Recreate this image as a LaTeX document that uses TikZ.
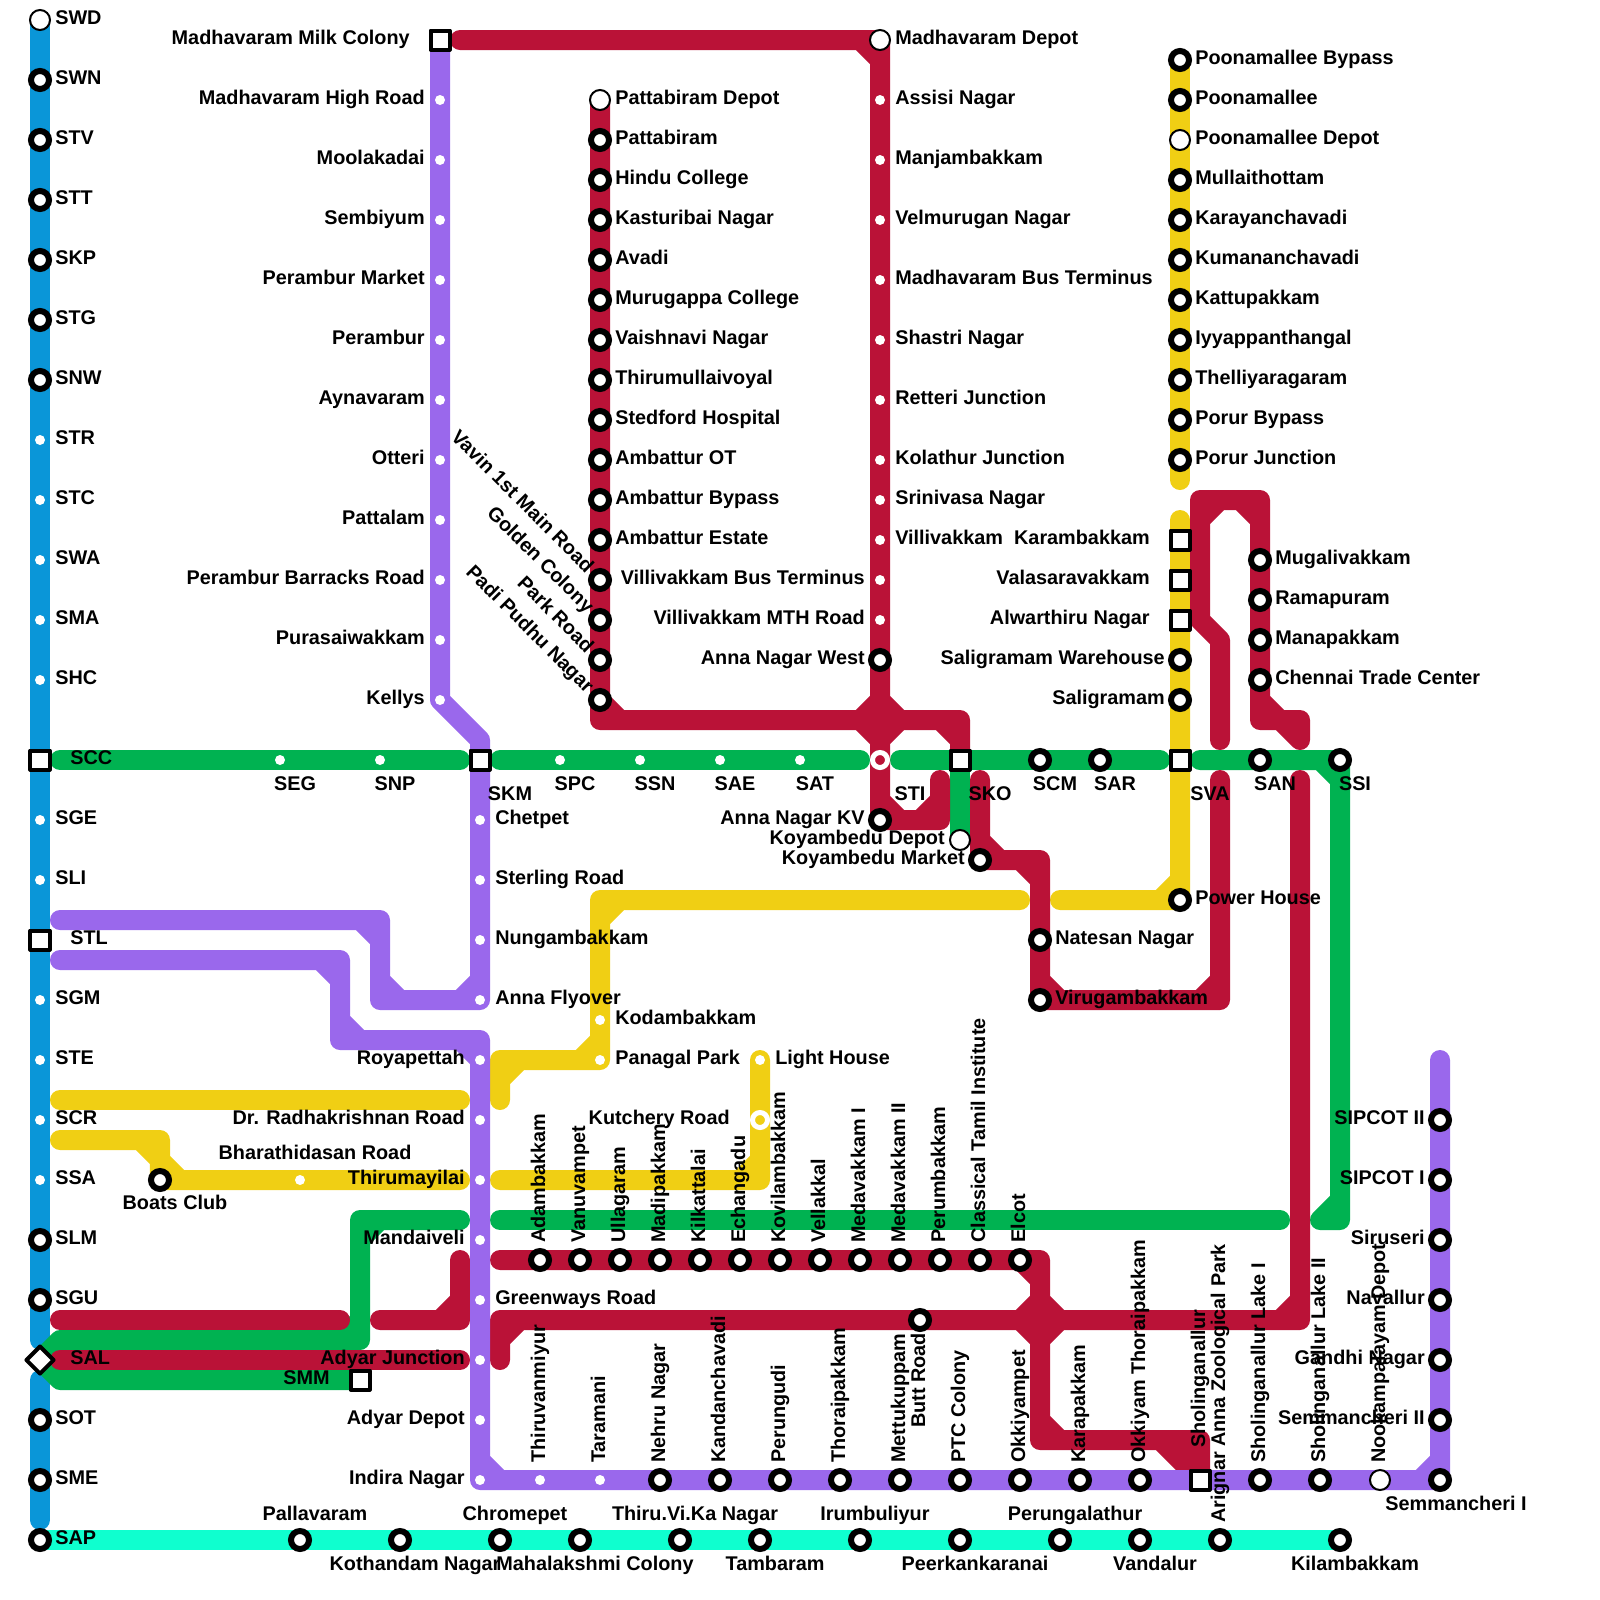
\documentclass[tikz,border=0pt]{standalone}
\usepackage{fontspec}
\setmainfont{Liberation Sans}
\usetikzlibrary{shapes.geometric, backgrounds}
\definecolor{metroblue}{HTML}{0A96D8}
\definecolor{metropurple}{HTML}{9A68EC}
\definecolor{metrored}{HTML}{BA1237}
\definecolor{metrogreen}{HTML}{00B251}
\definecolor{metroyellow}{HTML}{F0CF14}
\definecolor{metroteal}{HTML}{0FFFCF}

\begin{document}
\begin{tikzpicture}[
    x=0.025cm, y=-0.025cm,
    mline/.style = {line width=0.5cm, line cap=round, line join=round},
    blueline/.style = {mline, draw=metroblue},
    purline/.style = {mline, draw=metropurple},
    redline/.style = {mline, draw=metrored},
    grnline/.style = {mline, draw=metrogreen},
    yelline/.style = {mline, draw=metroyellow},
    tealline/.style = {mline, line cap=butt, draw=metroteal},
    ring/.style = {circle, draw=black, fill=white, line width=0.15cm, minimum size=0.45cm, inner sep=0pt},
    dotstn/.style = {circle, fill=white, minimum size=0.25cm, inner sep=0pt},
    openstn/.style = {circle, draw=black, fill=white, line width=0.05cm, minimum size=0.5cm, inner sep=0pt},
    sqstn/.style = {rectangle, draw=black, fill=white, line width=0.1cm, line join=round, minimum size=0.475cm, inner sep=0pt},
    diamstn/.style = {diamond, draw=black, fill=white, line width=0.1cm, line join=round, minimum size=0.72cm, inner sep=0pt},
    xredstn/.style = {circle, draw=white, fill=metrored, line width=0.125cm, minimum size=0.375cm, inner sep=0pt},
    xyelstn/.style = {circle, draw=white, fill=metroyellow, line width=0.125cm, minimum size=0.375cm, inner sep=0pt},
    lbl/.style = {font=\fontsize{14.1pt}{15pt}\bfseries, inner sep=0pt},
    lblr/.style = {lbl, anchor=base west},
    lbll/.style = {lbl, anchor=base east},
    lblc/.style = {lbl, anchor=base},
    lblup/.style = {lbl, anchor=base west, rotate=90},
    lbldg/.style = {lbl, anchor=base east, rotate=-45}
]
\useasboundingbox (0,0) rectangle (1600,1600);

% blue line
\foreach \st/\y/\txt in {openstn/20/SWD, ring/80/SWN, ring/140/STV, ring/200/STT, ring/260/SKP, ring/320/STG, ring/380/SNW,
    dotstn/440/STR, dotstn/500/STC, dotstn/560/SWA, dotstn/620/SMA, dotstn/680/SHC, dotstn/820/SGE, dotstn/880/SLI,
    dotstn/1000/SGM, dotstn/1060/STE, dotstn/1120/SCR, dotstn/1180/SSA, ring/1240/SLM, ring/1300/SGU,
    ring/1420/SOT, ring/1480/SME, ring/1540/SAP}
    {\node[\st] (blu-\y) at (40,\y) {};
     \node[lblr] (blu-\y-t) at (55,\y+4) {\txt};}
\foreach \st/\y/\txt in {sqstn/760/SCC, sqstn/940/STL, diamstn/1360/SAL}
    {\node[\st] (blu-\y) at (40,\y) {};
     \node[lblr] (blu-\y-t) at (70,\y+4) {\txt};}

% purple line, north part
\node[sqstn] (pnw-40) at (440,40) {};
\node[lbll] (pnw-40-t) at (410,44) {Madhavaram Milk Colony};
\foreach \y/\txt in {100/Madhavaram High Road, 160/Moolakadai, 220/Sembiyum, 280/Perambur Market, 340/Perambur,
    400/Aynavaram, 460/Otteri, 520/Pattalam, 580/Perambur Barracks Road, 640/Purasaiwakkam, 700/Kellys}
    {\node[dotstn] (pnw-\y) at (440,\y) {};
     \node[lbll] (pnw-\y-t) at (425,\y+4) {\txt};}

% purple line, middle part
\foreach \y/\txt in {820/Chetpet, 880/Sterling Road, 940/Nungambakkam, 1000/Anna Flyover, 1300/Greenways Road}
    {\node[dotstn] (pmd-\y) at (480,\y) {};
     \node[lblr] (pmd-\y-t) at (495,\y+4) {\txt};}
\foreach \y/\txt in {1060/Royapettah, 1120/Dr. Radhakrishnan Road, 1180/Thirumayilai, 1240/Mandaiveli,
    1360/Adyar Junction, 1420/Adyar Depot}
    {\node[dotstn] (pmd-\y) at (480,\y) {};
     \node[lbll] (pmd-\y-t) at (465,\y+4) {\txt};}
\node[dotstn] (pbt-480) at (480,1480) {};
\node[lbll] (pbt-480-t) at (465,1484) {Indira Nagar};

% purple line, south part
\foreach \st/\x/\txt in {dotstn/540/Thiruvanmiyur, dotstn/600/Taramani, ring/660/Nehru Nagar, ring/720/Kandanchavadi,
    ring/780/Perungudi, ring/840/Thoraipakkam, ring/900/Mettukuppam, ring/960/PTC Colony, ring/1020/Okkiyampet,
    ring/1080/Karapakkam, ring/1140/Okkiyam Thoraipakkam, ring/1260/Sholinganallur Lake I,
    ring/1320/Sholinganallur Lake II, openstn/1380/Nookampalayam Depot}
    {\node[\st] (pbt-\x) at (\x,1480) {};
     \node[lblup] (pbt-\x-t) at (\x+5,1463) {\txt};}
\node[sqstn] (pbt-1200) at (1200,1480) {};
\node[lblup] (pbt-1200-t) at (1205,1448) {Sholinganallur};
\node[ring] (pbt-1440) at (1440,1480) {};
\node[lblc] (pbt-1440-t) at (1456,1510) {Semmancheri I};
\foreach \y/\txt in {1120/SIPCOT II, 1180/SIPCOT I, 1240/Siruseri, 1300/Navallur, 1360/Gandhi Nagar, 1420/Semmancheri II}
    {\node[ring] (pso-\y) at (1440,\y) {};
     \node[lbll] (pso-\y-t) at (1425,\y+4) {\txt};}

% red line, Pattabiram side
\node[openstn] (rpt-100) at (600,100) {};
\node[lblr] (rpt-100-t) at (615,104) {Pattabiram Depot};
\foreach \y/\txt in {140/Pattabiram, 180/Hindu College, 220/Kasturibai Nagar, 260/Avadi, 300/Murugappa College,
    340/Vaishnavi Nagar, 380/Thirumullaivoyal, 420/Stedford Hospital, 460/Ambattur OT, 500/Ambattur Bypass, 540/Ambattur Estate}
    {\node[ring] (rpt-\y) at (600,\y) {};
     \node[lblr] (rpt-\y-t) at (615,\y+4) {\txt};}
\foreach \y/\txt in {580/Vavin 1st Main Road, 620/Golden Colony, 660/Park Road, 700/Padi Pudhu Nagar}
    {\node[ring] (rpt-\y) at (600,\y) {};
     \node[lbldg] (rpt-\y-t) at (586,\y-6) {\txt};}

% red line, Madhavaram side
\node[openstn] (rnm-40) at (880,40) {};
\node[lblr] (rnm-40-t) at (895,44) {Madhavaram Depot};
\foreach \y/\txt in {100/Assisi Nagar, 160/Manjambakkam, 220/Velmurugan Nagar, 280/Madhavaram Bus Terminus, 340/Shastri Nagar,
    400/Retteri Junction, 460/Kolathur Junction, 500/Srinivasa Nagar, 540/Villivakkam}
    {\node[dotstn] (rnm-\y) at (880,\y) {};
     \node[lblr] (rnm-\y-t) at (895,\y+4) {\txt};}
\foreach \st/\y/\txt in {dotstn/580/Villivakkam Bus Terminus, dotstn/620/Villivakkam MTH Road, ring/660/Anna Nagar West, ring/820/Anna Nagar KV}
    {\node[\st] (rnm-\y) at (880,\y) {};
     \node[lbll] (rnm-\y-t) at (865,\y+4) {\txt};}

% yellow line, Poonamallee side
\foreach \st/\y/\txt in {ring/60/Poonamallee Bypass, ring/100/Poonamallee, openstn/140/Poonamallee Depot, ring/180/Mullaithottam,
    ring/220/Karayanchavadi, ring/260/Kumananchavadi, ring/300/Kattupakkam, ring/340/Iyyappanthangal,
    ring/380/Thelliyaragaram, ring/420/Porur Bypass, ring/460/Porur Junction, ring/900/Power House}
    {\node[\st] (yax-\y) at (1180,\y) {};
     \node[lblr] (yax-\y-t) at (1195,\y+4) {\txt};}
\foreach \y/\txt in {540/Karambakkam, 580/Valasaravakkam, 620/Alwarthiru Nagar}
    {\node[sqstn] (yax-\y) at (1180,\y) {};
     \node[lbll] (yax-\y-t) at (1150,\y+4) {\txt};}
\foreach \y/\txt in {660/Saligramam Warehouse, 700/Saligramam}
    {\node[ring] (yax-\y) at (1180,\y) {};
     \node[lbll] (yax-\y-t) at (1165,\y+4) {\txt};}

% yellow line, other stations
\foreach \st/\n/\x/\y/\txt in {dotstn/kodam/600/1020/Kodambakkam, dotstn/panag/600/1060/Panagal Park, dotstn/light/760/1060/Light House}
    {\node[\st] (\n) at (\x,\y) {};
     \node[lblr] (\n-t) at (\x+15,\y+4) {\txt};}
\node[xyelstn] (kutch) at (760,1120) {};
\node[lbll] (kutch-t) at (730,1124) {Kutchery Road};
\node[ring] (boats) at (160,1180) {};
\node[lblc] (boats-t) at (175,1209) {Boats Club};
\node[dotstn] (bhara) at (300,1180) {};
\node[lblc] (bhara-t) at (315,1159) {Bharathidasan Road};

% red line, Mugalivakkam and Virugambakkam side
\foreach \y/\txt in {560/Mugalivakkam, 600/Ramapuram, 640/Manapakkam, 680/Chennai Trade Center}
    {\node[ring] (rte-\y) at (1260,\y) {};
     \node[lblr] (rte-\y-t) at (1275,\y+4) {\txt};}
\foreach \n/\y/\txt in {natesan/940/Natesan Nagar, viru/1000/Virugambakkam}
    {\node[ring] (\n) at (1040,\y) {};
     \node[lblr] (\n-t) at (1055,\y+4) {\txt};}
\node[openstn] (kdepot) at (960,840) {};
\node[lbll] (kdepot-t) at (945,844) {Koyambedu Depot};
\node[ring] (kmarket) at (980,860) {};
\node[lbll] (kmarket-t) at (965,864) {Koyambedu Market};

% red line, Adambakkam row
\foreach \x/\txt in {540/Adambakkam, 580/Vanuvampet, 620/Ullagaram, 660/Madipakkam, 700/Kilkattalai, 740/Echangadu,
    780/Kovilambakkam, 820/Vellakkal, 860/Medavakkam I, 900/Medavakkam II, 940/Perumbakkam,
    980/Classical Tamil Institute, 1020/Elcot}
    {\node[ring] (rcr-\x) at (\x,1260) {};
     \node[lblup] (rcr-\x-t) at (\x+5,1243) {\txt};}
\node[ring] (butt) at (920,1320) {};
\node[lblup] (butt-t) at (925,1428) {Butt Road};

% green line stations
\foreach \st/\x/\txt in {dotstn/280/SEG, dotstn/380/SNP, dotstn/560/SPC, dotstn/640/SSN,
    dotstn/720/SAE, dotstn/800/SAT, ring/1040/SCM, ring/1100/SAR, ring/1260/SAN, ring/1340/SSI}
    {\node[\st] (grn-\x) at (\x,760) {};
     \node[lblc] (grn-\x-t) at (\x+15,790) {\txt};}
\node[sqstn] (grn-480) at (480,760) {};
\node[lblc] (grn-480-t) at (510,800) {SKM};
\node[xredstn] (grn-880) at (880,760) {};
\node[lblc] (grn-880-t) at (910,800) {STI};
\node[sqstn] (grn-960) at (960,760) {};
\node[lblc] (grn-960-t) at (990,800) {SKO};
\node[sqstn] (grn-1180) at (1180,760) {};
\node[lblc] (grn-1180-t) at (1210,800) {SVA};
\node[sqstn] (smm) at (360,1380) {};
\node[lbll] (smm-t) at (330,1384) {SMM};

% teal line stations
\foreach \x/\bs/\txt in {300/1520/Pallavaram, 400/1570/Kothandam Nagar, 500/1520/Chromepet, 580/1570/Mahalakshmi Colony,
    680/1520/Thiru.Vi.Ka Nagar, 760/1570/Tambaram, 860/1520/Irumbuliyur, 960/1570/Peerkankaranai,
    1060/1520/Perungalathur, 1140/1570/Vandalur, 1340/1570/Kilambakkam}
    {\node[ring] (tea-\x) at (\x,1540) {};
     \node[lblc] (tea-\x-t) at (\x+15,\bs) {\txt};}
\node[ring] (tea-1220) at (1220,1540) {};
\node[lblup] (tea-1220-t) at (1225,1523) {Arignar Anna Zoological Park};

% free ends and bends
\foreach \n/\x/\y in {bla/40/1340, blb/40/1380, blc/40/1520,
    pa/480/740, pb/380/1000, pc/380/920, pd/60/920, pe/60/960, pf/340/960, pg/340/1040, ph/480/1040, pi/1440/1060, pj/1440/1480,
    ra/460/40, rb/880/720, rc/940/820, rd/940/780, re/600/720, rf/960/720, rg/980/780, rh/1040/860, ri/1040/1000, rj/1220/1000, rk/1220/780,
    rl/1220/740, rm/1220/640, rn/1200/620, ro/1200/500, rp/1260/500, rq/1260/720, rr/1300/720, rs/1300/740,
    rt/60/1320, ru/340/1320, rv/380/1320, rw/460/1320, rx/460/1260, ry/60/1360, rz/460/1360,
    sa/500/1360, sb/500/1320, sc/1300/1320, sd/1300/780, se/500/1260, sf/1040/1260, sg/1040/1440, sh/1200/1440, si/1040/1320,
    ga/60/760, gb/460/760, gc/500/760, gd/860/760, ge/900/760, gf/1160/760, gg/1200/760, gh/1340/1220, gi/1320/1220,
    gj/500/1220, gk/1280/1220, gl/460/1220, gm/360/1220, gn/360/1340, go/60/1340, gp/60/1380,
    ya/1180/480, yb/1180/520, yc/1060/900, yd/1020/900, ye/600/900, yf/500/1060, yg/500/1100,
    yh/60/1100, yi/460/1100, yj/60/1140, yk/160/1140, yl/460/1180, ym/500/1180, yn/760/1180}
    {\coordinate (\n) at (\x,\y);}

\begin{scope}[on background layer]
% blue and teal
\draw[blueline] (blu-20.center) -- (bla);
\draw[blueline] (blb) -- (blc);
\draw[tealline] (blu-1540.center) -- (tea-1340.center);

% green
\draw[grnline] (ga) -- (gb);
\draw[grnline] (gc) -- (gd);
\draw[grnline] (ge) -- (gf);
\draw[grnline] (gg) -- (grn-1340.center) -- (gh) -- (gi)
    (grn-1340.center) ++(-20,0) -- ++(20,20)
    (gi) -- ++(20,-20);
\draw[grnline] (grn-960.center) -- (kdepot.center);
\draw[grnline] (gj) -- (gk);
\draw[grnline] (gl) -- (gm) -- (gn) -- (go) -- (blu-1360.center) -- (gp) -- (smm.center)
    (gm) ++(0,20) -- ++(20,-20)
    (gn) ++(0,-20) -- ++(-20,20);

% yellow
\draw[yelline] (yax-60.center) -- (ya);
\draw[yelline] (yb) -- (yax-900.center) -- (yc)
    (yax-900.center) ++(-20,0) -- ++(20,-20);
\draw[yelline] (yd) -- (ye) -- (panag.center) -- (yf) -- (yg)
    (ye) ++(0,20) -- ++(20,-20)
    (panag.center) ++(-20,0) -- ++(20,-20)
    (yf) ++(0,20) -- ++(20,-20);
\draw[yelline] (yh) -- (yi);
\draw[yelline] (yj) -- (yk) -- (boats.center) -- (yl)
    (yk) ++(-20,0) -- ++(20,20) -- ++(20,20);
\draw[yelline] (ym) -- (yn) -- (light.center)
    (yn) ++(-20,0) -- ++(20,-20);

% red
\draw[redline] (ra) -- (rnm-40.center) -- (rb) -- (rnm-820.center) -- (rc) -- (rd)
    (rnm-40.center) ++(-20,0) -- ++(20,20)
    (rb) ++(-20,0) -- ++(20,-20) -- ++(20,20) -- ++(-20,20) -- cycle
    (rnm-820.center) ++(0,-20) -- ++(20,20)
    (rc) ++(-20,0) -- ++(20,-20);
\draw[redline] (rpt-100.center) -- (re) -- (rf) -- (grn-960.center)
    (re) ++(0,-20) -- ++(20,20)
    (rf) ++(-20,0) -- ++(20,20);
\draw[redline] (rg) -- (kmarket.center) -- (rh) -- (ri) -- (rj) -- (rk)
    (kmarket.center) ++(0,-20) -- ++(20,20)
    (rh) ++(-20,0) -- ++(20,20)
    (ri) ++(0,-20) -- ++(20,20)
    (rj) ++(-20,0) -- ++(20,-20);
\draw[redline] (rl) -- (rm) -- (rn) -- (ro) -- (rp) -- (rq) -- (rr) -- (rs)
    (ro) ++(0,20) -- ++(20,-20)
    (rp) ++(-20,0) -- ++(20,20)
    (rq) ++(0,-20) -- ++(20,20) -- ++(20,20);
\draw[redline] (rt) -- (ru);
\draw[redline] (rv) -- (rw) -- (rx)
    (rw) ++(-20,0) -- ++(20,-20);
\draw[redline] (ry) -- (rz);
\draw[redline] (sa) -- (sb) -- (sc) -- (sd)
    (sb) ++(0,20) -- ++(20,-20)
    (sc) ++(-20,0) -- ++(20,-20);
\draw[redline] (se) -- (sf) -- (sg) -- (sh) -- (pbt-1200.center)
    (sf) ++(-20,0) -- ++(20,20)
    (si) ++(-20,0) -- ++(20,-20) -- ++(20,20) -- ++(-20,20) -- cycle
    (sg) ++(0,-20) -- ++(20,20)
    (sh) ++(-40,0) -- ++(40,40)
    (sh) ++(-20,0) -- ++(20,20);

% purple
\draw[purline] (pnw-40.center) -- (pnw-700.center) -- (pa) -- (pmd-1000.center) -- (pb) -- (pc) -- (pd)
    (pmd-1000.center) ++(-20,0) -- ++(20,-20)
    (pb) ++(20,0) -- ++(-20,-20)
    (pc) ++(-20,0) -- ++(20,20);
\draw[purline] (pe) -- (pf) -- (pg) -- (ph) -- (pbt-480.center) -- (pj) -- (pi)
    (pf) ++(-20,0) -- ++(20,20)
    (pg) ++(0,-20) -- ++(20,20)
    (ph) ++(-20,0) -- ++(20,20)
    (pbt-480.center) ++(0,-20) -- ++(20,20)
    (pj) ++(-20,0) -- ++(20,-20);
\end{scope}

\end{tikzpicture}
\end{document}
